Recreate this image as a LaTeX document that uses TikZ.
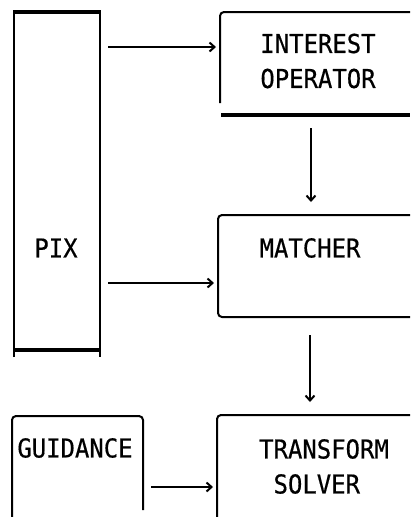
\documentclass[tikz,border=0pt]{standalone}
\usepackage{fontspec}
\newfontfamily\plotfont[FakeStretch=0.92,FakeBold=0.5]{DejaVu Sans Mono}
\usetikzlibrary{calc,arrows.meta}
\begin{document}
\begin{tikzpicture}[x=1pt,y=-1pt,
  region/.style={draw=none,inner sep=0pt,outer sep=0pt,rectangle},
  lbl/.style={font=\plotfont\fontsize{26}{35}\selectfont,inner sep=0pt,align=center},
  edge/.style={line width=2pt,rounded corners=4pt},
  heavy/.style={line width=4pt},
  arr/.style={line width=2.2pt,-{Straight Barb[length=5pt,width=9pt,line width=2pt]}}]
\useasboundingbox (0,0) rectangle (410,517);
% box regions (invisible)
\node[region,minimum width=86pt,minimum height=338pt] (pix) at (57,181) {};
\node[region,minimum width=190pt,minimum height=103pt] (interest) at (315,63.5) {};
\node[region,minimum width=192pt,minimum height=102pt] (matcher) at (314,266) {};
\node[region,minimum width=193pt,minimum height=102pt] (transform) at (313.5,466) {};
\node[region,minimum width=131pt,minimum height=101pt] (guidance) at (77.5,466.5) {};
% outlines
\draw[edge,rounded corners=0pt] (14,357) -- (14,12) -- (100,12) -- (100,357);
\draw[heavy] (13,12) -- (101,12);
\draw[heavy] (13,350) -- (101,350);
\draw[edge] (220,103) -- (220,12) -- (410,12);
\draw[heavy] (221,115) -- (410,115);
\draw[edge] (410,317) -- (218,317) -- (218,215) -- (410,215);
\draw[edge] (217,517) -- (217,415) -- (410,415);
\draw[edge] (12,517) -- (12,416) -- (143,416) -- (143,510);
% labels
\node[lbl] (pixtext) at (56,248) {PIX};
\node[lbl] (interesttext) at (318,61) {INTEREST\\OPERATOR};
\node[lbl] (matchertext) at (310,248) {MATCHER};
\node[lbl,align=left] (transformtext) at (324,466.5) {TRANSFORM\\\phantom{X}SOLVER};
\node[lbl] (guidancetext) at (75,448) {GUIDANCE};
% connectors
\draw[arr] ($(pix.north east)+(8,35)$) -- ($(interest.north west)+(-4,35)$);
\draw[arr] ($(pix.north east)+(8,271)$) -- ($(matcher.north west)+(-4,68)$);
\draw[arr] ($(interest.south)+(-4,13)$) -- ($(matcher.north)+(-3,-13)$);
\draw[arr] ($(matcher.south)+(-4,18)$) -- ($(transform.north)+(-3.5,-13)$);
\draw[arr] ($(guidance.east)+(8,20.5)$) -- ($(transform.west)+(-4,21)$);
\end{tikzpicture}
\end{document}
